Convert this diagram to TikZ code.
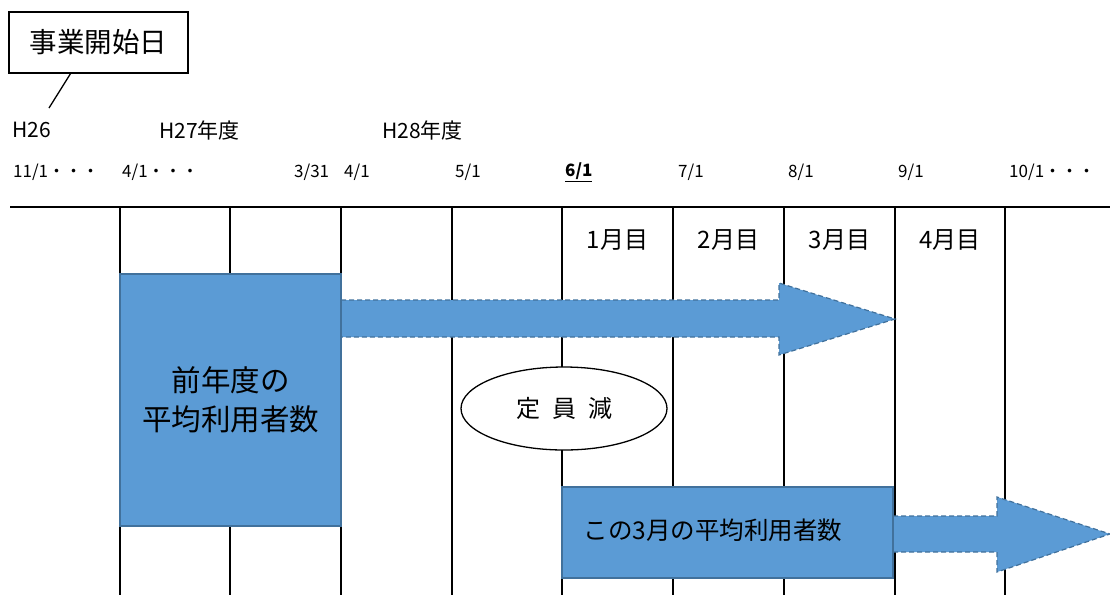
\documentclass[tikz,border=0pt]{standalone}
\usepackage{fontspec}
\setmainfont{Noto Sans CJK JP}
\usetikzlibrary{shapes.geometric}
\definecolor{bfill}{HTML}{5B9BD5}
\definecolor{bline}{HTML}{41719C}
\begin{document}
\begin{tikzpicture}[x=1pt,y=-1pt,
  grid/.style={line width=1.8pt,black},
  hdr/.style={font=\fontsize{21}{24}\selectfont,anchor=west,inner sep=0pt},
  dt/.style={font=\fontsize{17}{20}\selectfont,anchor=west,inner sep=0pt},
  mon/.style={font=\fontsize{24}{26}\selectfont,inner sep=0pt},
  bluebox/.style={draw=bline,fill=bfill,line width=1.2pt,inner sep=0pt},
  bluearrow/.style={draw=bline,fill=bfill,line width=1.2pt,dash pattern=on 5pt off 3pt}]
\useasboundingbox (0,0) rectangle (1110,595);
% grid
\draw[grid] (10,207) -- (1110,207);
\foreach \x in {120,230,341,452,562,673,784,895,1005}
  \draw[grid] (\x,207) -- (\x,595);
% start box
\node[draw,line width=1.3pt,minimum width=179pt,minimum height=61pt,inner sep=0pt,
  font=\fontsize{27.5}{30}\selectfont] (start) at (98.5,42.5) {事業開始日};
\coordinate (tick) at (49,108);
\draw[line width=1.3pt] ([xshift=-28pt]start.south) -- (tick);
% headers
\node[hdr] (h26) at (12,130) {H26};
\node[hdr] (h27) at (159,130) {H27年度};
\node[hdr] (h28) at (382,130) {H28年度};
% dates
\node[dt] (d1) at (13,172) {11/1・・・};
\node[dt] (d2) at (122,172) {4/1・・・};
\node[dt] (d3) at (294,172) {3/31};
\node[dt] (d4) at (344,172) {4/1};
\node[dt] (d5) at (455,172) {5/1};
\node[dt,font=\fontsize{17}{20}\selectfont\bfseries] (d6) at (565,172) {\underline{6/1}};
\node[dt] (d7) at (678,172) {7/1};
\node[dt] (d8) at (788,172) {8/1};
\node[dt] (d9) at (898,172) {9/1};
\node[dt] (d10) at (1009,172) {10/1・・・};
% months
\node[mon] (m1) at (617.5,240) {1月目};
\node[mon] (m2) at (728.5,240) {2月目};
\node[mon] (m3) at (839.5,240) {3月目};
\node[mon] (m4) at (950,240) {4月目};
% arrows
\draw[bluearrow] (341,300) -- (779,300) -- (779,283) -- (895,319) -- (779,355) -- (779,337) -- (341,337) -- cycle;
\draw[bluearrow] (893,516) -- (997,516) -- (997,497) -- (1110,534) -- (997,572) -- (997,552) -- (893,552) -- cycle;
% boxes
\node[bluebox,minimum width=221pt,minimum height=252pt,align=center,
  font=\fontsize{29.5}{39}\selectfont] (prev) at (230.5,400) {前年度の\\平均利用者数};
\node[bluebox,minimum width=331pt,minimum height=91pt] (cur) at (727.5,532.5) {};
\node[inner sep=0pt,font=\fontsize{24.5}{27}\selectfont] (curtext) at (713,530) {この3月の平均利用者数};
% ellipse
\node[ellipse,draw,fill=white,line width=1.3pt,minimum width=206pt,minimum height=83pt,
  font=\fontsize{24}{26}\selectfont] (gen) at (564,408.5) {定\hspace{0.5em}員\hspace{0.5em}減};
\end{tikzpicture}
\end{document}
